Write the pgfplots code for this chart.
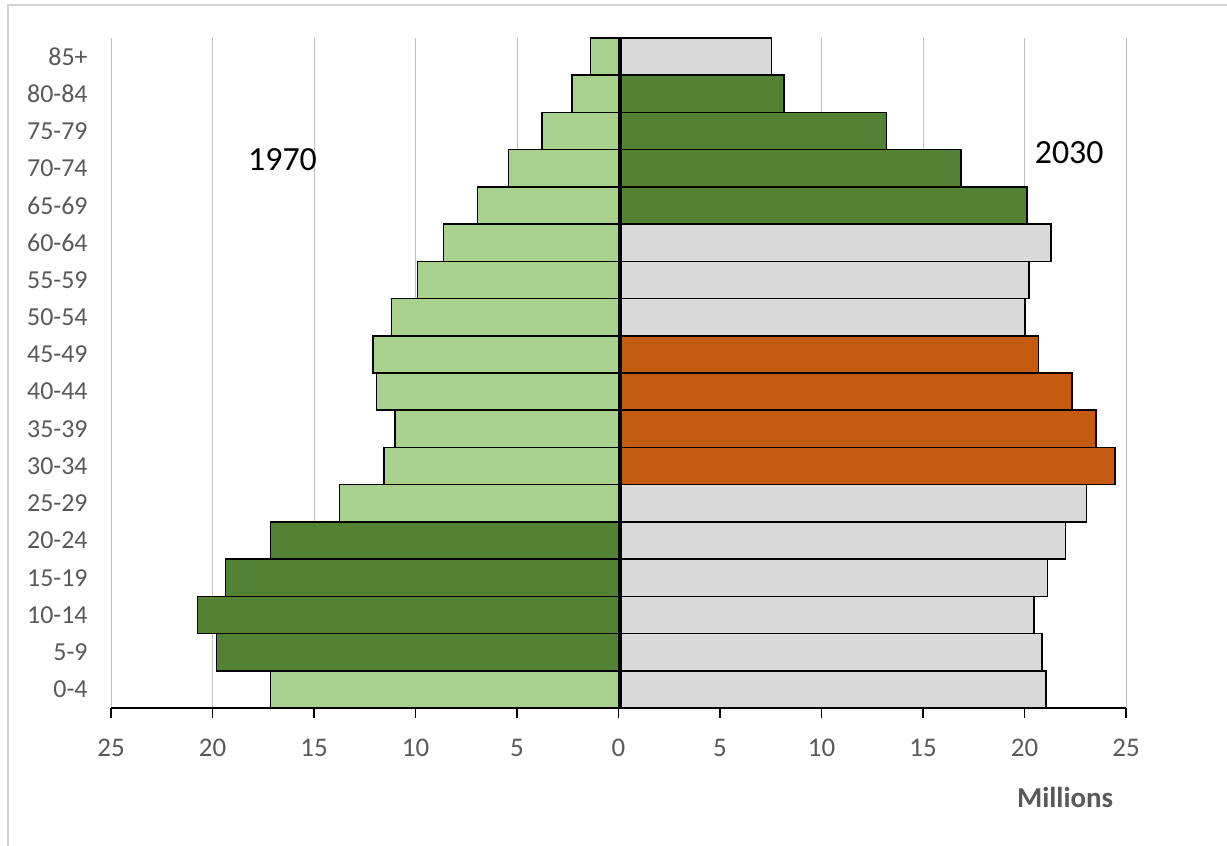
\documentclass[border=0pt]{standalone}
\usepackage{pgfplots}
\pgfplotsset{compat=1.18}
\usepackage{fontspec}
\setmainfont{Carlito}
\definecolor{lgreen}{HTML}{A9D18E}
\definecolor{dgreen}{HTML}{548235}
\definecolor{lgray}{HTML}{D9D9D9}
\definecolor{orng}{HTML}{C55A11}
\definecolor{txtgray}{HTML}{595959}
\definecolor{gridgray}{HTML}{BFBFBF}
\begin{document}
\begin{tikzpicture}
\useasboundingbox (0,0) rectangle (613.5bp,423bp);
\fill[white] (0,0) rectangle (613.5bp,423bp);
\draw[color=gridgray!70, line width=0.6bp] (4bp,-2bp) -- (4bp,420.5bp) -- (616bp,420.5bp);
\begin{axis}[
  at={(55.5bp,69bp)}, anchor=south west, scale only axis,
  width=507.5bp, height=335bp,
  xmin=-25, xmax=25, ymin=-0.5, ymax=17.5,
  clip=false,
  axis x line*=bottom, axis y line*=left,
  x axis line style={black, line width=0.7bp},
  y axis line style={draw=none},
  xtick={-25,-20,...,25},
  xticklabels={25,20,15,10,5,0,5,10,15,20,25},
  ytick={0,...,17},
  yticklabels={0-4,5-9,10-14,15-19,20-24,25-29,30-34,35-39,40-44,45-49,50-54,55-59,60-64,65-69,70-74,75-79,80-84,85+},
  tick align=outside,
  major tick length=5bp,
  xtick style={black, line width=0.7bp},
  ytick style={draw=none},
  xmajorgrids, grid style={gridgray, line width=0.5bp},
  xticklabel style={font=\fontsize{13.5}{16}\selectfont, text=txtgray, inner sep=0pt, anchor=center, yshift=-15bp},
  yticklabel style={font=\fontsize{13}{15}\selectfont, text=txtgray, inner sep=0pt, anchor=east, xshift=-6.5bp},
]
% 1970, light green
\addplot[xbar, bar width=1, bar shift=0pt, fill=lgreen, draw=black, line width=0.75bp] coordinates {
(-17.15,0) (-13.74,5) (-11.54,6) (-11.01,7) (-11.91,8) (-12.09,9) (-11.19,10) (-9.90,11) (-8.62,12) (-6.94,13) (-5.41,14) (-3.78,15) (-2.29,16) (-1.37,17)};
% 1970, dark green
\addplot[xbar, bar width=1, bar shift=0pt, fill=dgreen, draw=black, line width=0.75bp] coordinates {
(-19.81,1) (-20.73,2) (-19.36,3) (-17.15,4)};
% 2030, gray
\addplot[xbar, bar width=1, bar shift=0pt, fill=lgray, draw=black, line width=0.75bp] coordinates {
(21.05,0) (20.85,1) (20.48,2) (21.13,3) (22.03,4) (23.05,5) (20.03,10) (20.22,11) (21.31,12) (7.53,17)};
% 2030, orange
\addplot[xbar, bar width=1, bar shift=0pt, fill=orng, draw=black, line width=0.75bp] coordinates {
(24.45,6) (23.53,7) (22.33,8) (20.68,9)};
% 2030, dark green
\addplot[xbar, bar width=1, bar shift=0pt, fill=dgreen, draw=black, line width=0.75bp] coordinates {
(20.13,13) (16.86,14) (13.19,15) (8.16,16)};
% zero line
\addplot[black, line width=2bp] coordinates {(0.08,-0.5) (0.08,17.5)};
\node[font=\fontsize{17}{20}\selectfont] at (axis cs:-16.55,14.22) {1970};
\node[font=\fontsize{17}{20}\selectfont] at (axis cs:22.2,14.41) {2030};
\node[font=\bfseries\fontsize{14.5}{17}\selectfont, text=txtgray, yshift=-44.5bp] at (axis cs:22,-0.5) {Millions};
\end{axis}
\end{tikzpicture}
\end{document}
